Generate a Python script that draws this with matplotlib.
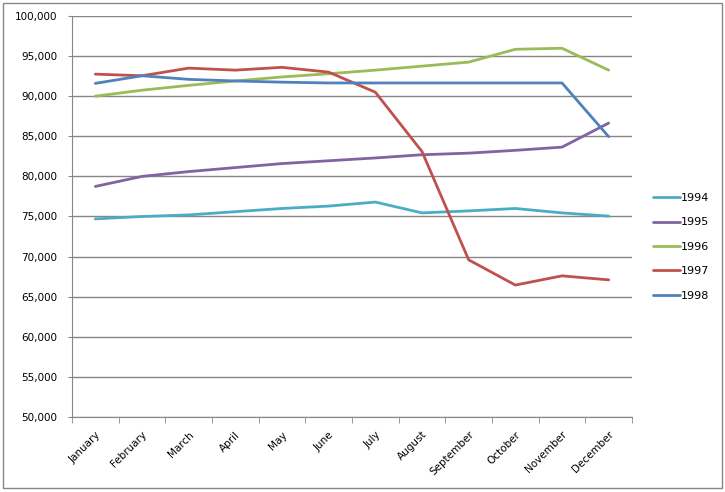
import numpy as np
from matplotlib import pyplot as plt
from matplotlib.patches import Rectangle
from matplotlib.ticker import FuncFormatter, FixedLocator

months = ['January', 'February', 'March', 'April', 'May', 'June', 'July',
          'August', 'September', 'October', 'November', 'December']

y1994 = [74700, 75000, 75200, 75600, 76000, 76300, 76800, 75450, 75700, 76000, 75450, 75050]
y1995 = [78750, 80000, 80600, 81100, 81600, 81950, 82300, 82700, 82900, 83250, 83650, 86650]
y1996 = [90000, 90750, 91350, 91900, 92400, 92800, 93250, 93750, 94250, 95850, 95980, 93250]
y1997 = [92750, 92550, 93500, 93250, 93600, 93000, 90500, 83100, 69600, 66450, 67600, 67100]
y1998 = [91600, 92550, 92100, 91900, 91750, 91650, 91650, 91650, 91650, 91650, 91650, 84950]

series = [('1994', y1994, '#4BACC6'),
          ('1995', y1995, '#8064A2'),
          ('1996', y1996, '#9BBB59'),
          ('1997', y1997, '#C0504D'),
          ('1998', y1998, '#4F81BD')]

fig = plt.figure(figsize=(7.25, 4.92), dpi=100)
fig.patches.append(Rectangle((3 / 725, 4 / 492), 719 / 725, 485 / 492,
                             transform=fig.transFigure, fill=False,
                             edgecolor='#868686', linewidth=1))

ax = fig.add_axes([72 / 725, 1 - 417 / 492, 560 / 725, 401 / 492])
x = np.arange(len(months))
for name, vals, col in series:
    ax.plot(x, vals, color=col, linewidth=2.0, label=name, solid_capstyle='round')

ax.set_xlim(-0.5, len(months) - 0.5)
ax.set_ylim(50000, 100000)
ax.set_yticks(np.arange(50000, 100001, 5000))
ax.yaxis.set_major_formatter(FuncFormatter(lambda v, p: f'{int(v):,}'))
ax.yaxis.grid(True, color='#868686', linewidth=1)
ax.set_axisbelow(True)

ax.set_xticks(x)
ax.set_xticklabels(months, rotation=45, ha='right', rotation_mode='anchor')
ax.xaxis.set_minor_locator(FixedLocator(np.arange(-0.5, len(months), 1)))
ax.tick_params(axis='x', which='major', length=0, pad=9, labelsize=7.5)
ax.tick_params(axis='x', which='minor', length=4, color='#868686', direction='out')
ax.tick_params(axis='y', length=3, color='#868686', labelsize=7.5, pad=7.5)

for s in ['top', 'right']:
    ax.spines[s].set_visible(False)
for s in ['left', 'bottom']:
    ax.spines[s].set_color('#868686')

ax.legend(loc='upper left', bbox_to_anchor=(643 / 725, 1 - 183 / 492),
          bbox_transform=fig.transFigure, frameon=False, fontsize=8,
          handlelength=2.4, handletextpad=0.1, labelspacing=1.3)

plt.savefig('out.png', dpi=100)
